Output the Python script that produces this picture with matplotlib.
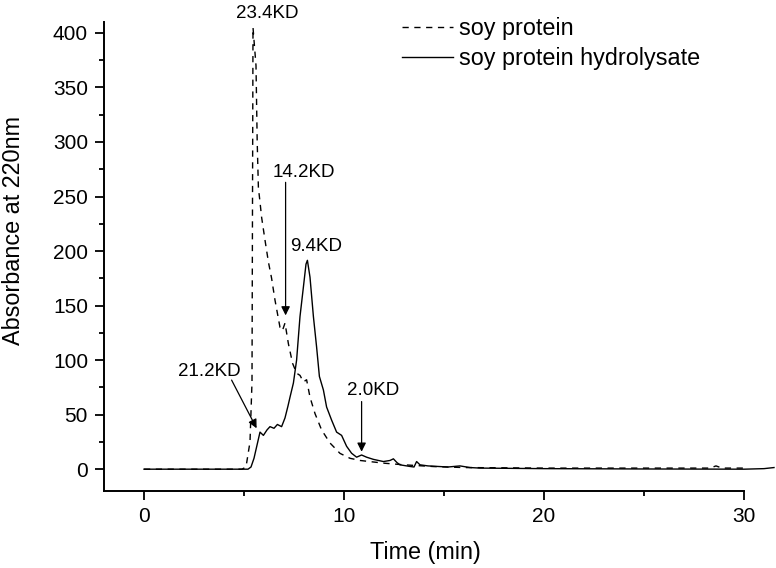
"""SEC chromatogram: soy protein vs soy protein hydrolysate."""

import matplotlib

matplotlib.use("Agg")
import matplotlib.pyplot as plt
from matplotlib.ticker import MultipleLocator

plt.rcParams["font.family"] = ["Liberation Sans", "DejaVu Sans"]

# soy protein (dashed)
protein_time = [0, 4.9, 5.1, 5.3, 5.4, 5.45, 5.6, 5.66, 5.72, 5.8, 5.88,
                6.05, 6.22, 6.38, 6.55, 6.8, 6.92, 7.05, 7.22, 7.43, 7.63, 7.8,
                7.97, 8.13, 8.3, 8.55, 8.88, 9.3, 9.8, 10.3, 10.8, 12.0, 13.0,
                14.5, 16, 20, 25, 28.3, 28.6, 28.9, 30]
protein_abs = [0, 0, 2, 25, 80, 405, 370, 300, 258, 245, 231,
               210, 190, 175, 155, 130, 127, 134, 115, 97, 88, 86,
               80, 82, 66, 51, 36, 24, 14.5, 10, 8, 5.5, 4,
               2.4, 1.5, 1, 1, 1, 3, 1, 1]

# soy protein hydrolysate (solid)
hydro_time = [0, 5.2, 5.35, 5.5, 5.65, 5.8, 5.97, 6.15, 6.3, 6.5, 6.67, 6.88,
              7.05, 7.2, 7.3, 7.47, 7.63, 7.8, 7.97, 8.1, 8.17, 8.3, 8.47,
              8.63, 8.77, 8.97, 9.13, 9.38, 9.63, 9.88, 10.13, 10.38, 10.63,
              10.88, 11.13, 11.47, 11.97, 12.3, 12.47, 12.65, 12.8, 13.3, 13.5,
              13.63, 13.8, 14.2, 15.2, 15.8, 16.3, 16.8, 20, 25, 30, 31, 31.5]
hydro_abs = [0, 0, 2, 10, 22, 34, 31, 36, 39, 37.5, 41, 39,
             47, 58, 66, 79, 100, 140, 167, 188, 191.5, 176, 140,
             112, 85, 72.6, 57, 45, 34, 31, 21, 14.6, 11,
             13, 11, 9, 7, 8, 9.5, 6, 4, 2.5, 2,
             7, 4, 3, 2, 3, 1.5, 1, 0.5, 0.2, 0, 0.5, 1.5]

# molecular weight labels: text position, arrow start, arrow tip (None = no arrow)
mw_labels = ["23.4KD", "14.2KD", "9.4KD", "21.2KD", "2.0KD"]
mw_text_xy = [(6.15, 418), (7.97, 272), (8.63, 204), (3.25, 89.5), (11.47, 72.6)]
mw_arrow_from = [None, (7.08, 263), None, (4.38, 81.7), (10.88, 62)]
mw_arrow_to = [None, (7.08, 141), None, (5.63, 37.5), (10.88, 16)]

fig = plt.figure(figsize=(7.76, 5.68), dpi=100)
ax = fig.add_axes([104 / 776, 77 / 568, 672 / 776, 469 / 568])

ax.plot(protein_time, protein_abs, color="black", lw=1.0, dashes=(4.5, 4),
        label="soy protein", clip_on=False)
ax.plot(hydro_time, hydro_abs, color="black", lw=1.0,
        label="soy protein hydrolysate", clip_on=False)

for label, text_xy, start, tip in zip(mw_labels, mw_text_xy, mw_arrow_from, mw_arrow_to):
    ax.text(*text_xy, label, fontsize=13.5, ha="center", va="center", clip_on=False)
    if start is not None:
        ax.annotate("", xy=tip, xytext=start,
                    arrowprops=dict(arrowstyle="-|>", color="black", lw=0.9,
                                    mutation_scale=13, shrinkA=0, shrinkB=0))

ax.set_xlim(-2, 31.6)
ax.set_ylim(-20, 410)
for side in ("top", "right"):
    ax.spines[side].set_visible(False)
ax.spines["bottom"].set_bounds(-2, 30)
for side in ("left", "bottom"):
    ax.spines[side].set_linewidth(1.4)

ax.xaxis.set_major_locator(MultipleLocator(10))
ax.xaxis.set_minor_locator(MultipleLocator(5))
ax.yaxis.set_major_locator(MultipleLocator(50))
ax.yaxis.set_minor_locator(MultipleLocator(25))
ax.tick_params(which="major", length=6.5, width=1.3, labelsize=15, pad=5)
ax.tick_params(which="minor", length=3.5, width=1.3)

ax.set_xlabel("Time (min)", fontsize=16.8)
ax.xaxis.set_label_coords(0.478, -0.107)
ax.set_ylabel("Absorbance at 220nm", fontsize=16.8)
ax.yaxis.set_label_coords(-0.118, 0.556)

ax.legend(loc="upper left", bbox_to_anchor=(402 / 776, 1 - 17 / 568),
          bbox_transform=fig.transFigure, frameon=False, fontsize=16.8,
          handlelength=2.2, handletextpad=0.25, labelspacing=0.3,
          borderpad=0, borderaxespad=0)

fig.savefig("out.png", dpi=100)
